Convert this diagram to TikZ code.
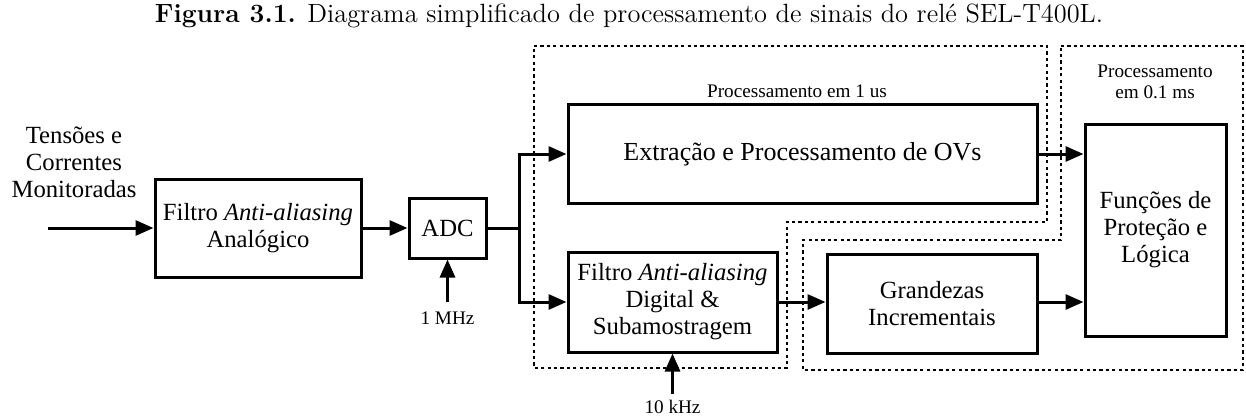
\documentclass[tikz,border=0pt]{standalone}
\usepackage{fontspec}
\newfontfamily\tnr{Liberation Serif}
\usetikzlibrary{arrows.meta}
\begin{document}
\begin{tikzpicture}[x=0.5pt,y=-0.5pt,
  blk/.style={draw, line width=1.5pt, inner sep=0pt, align=center,
    font=\tnr\fontsize{12.35}{13.5}\selectfont},
  sig/.style={line width=1.5pt, -{Triangle[length=9pt,width=7.5pt]}},
  wire/.style={line width=1.5pt},
  zone/.style={line width=0.75pt, dash pattern=on 1.6pt off 1.6pt},
  small/.style={font=\tnr\fontsize{9.6}{10.5}\selectfont, align=center, inner sep=0pt},
  lbl/.style={font=\tnr\fontsize{12.35}{13.5}\selectfont, align=center, inner sep=0pt}]
\useasboundingbox (0,0) rectangle (1246,417);

% caption
\node[inner sep=0pt, font=\fontsize{13.2}{15}\selectfont] (cap) at (629,16)
  {\textbf{Figura 3.1.} Diagrama simplificado de processamento de sinais do relé SEL-T400L.};

% dashed zones
\draw[zone] (534,46) -- (1047,46) -- (1047,222) -- (787,222) -- (787,368) -- (534,368) -- cycle;
\draw[zone] (1061,46) -- (1243,46) -- (1243,370) -- (803,370) -- (803,240) -- (1061,240) -- cycle;
\node[small] (z1) at (797,91) {Processamento em 1 us};
\node[small] (z2) at (1155,82) {Processamento\\em 0.1 ms};

% blocks
\node[blk, minimum width=103pt, minimum height=49pt] (fa) at (258,228)
  {Filtro \textit{Anti-aliasing}\\Analógico};
\node[blk, minimum width=38.5pt, minimum height=30pt] (adc) at (447.5,228) {ADC};
\node[blk, minimum width=234.5pt, minimum height=49pt,
  font=\tnr\fontsize{13}{15}\selectfont] (ext) at (802.5,154) {Extração e Processamento de OVs};
\node[blk, minimum width=104.5pt, minimum height=50pt] (fd) at (672.5,302)
  {Filtro \textit{Anti-aliasing}\\Digital \&\\Subamostragem};
\node[blk, minimum width=105pt, minimum height=49.5pt] (gi) at (932,303.5)
  {Grandezas\\Incrementais};
\node[blk, minimum width=70.5pt, minimum height=106pt] (fp) at (1155.5,230)
  {Funções de\\Proteção e\\Lógica};

% input
\node[lbl] (in) at (74,162) {Tensões e\\Correntes\\Monitoradas};
\coordinate (src) at (48,228);
\draw[sig] (src) -- (fa.west);
\draw[sig] (fa.east) -- (adc.west);

% split
\coordinate (sp) at (519,228);
\draw[wire] (adc.east) -- (sp);
\draw[sig] (sp) |- (ext.west);
\draw[sig] (sp) |- (fd.west);

% clocks
\coordinate (c1) at (447.5,302);
\draw[sig] (c1) -- (adc.south);
\node[small] (f1) at (447.5,318) {1 MHz};
\coordinate (c2) at (672.5,394);
\draw[sig] (c2) -- (fd.south);
\node[small] (f2) at (672.5,407) {10 kHz};

% to outputs
\draw[sig] (fd.east) -- (fd.east -| gi.west);
\draw[sig] (ext.east) -- (ext.east -| fp.west);
\draw[sig] (gi.east |- fd.east) -- (fd.east -| fp.west);
\end{tikzpicture}
\end{document}
